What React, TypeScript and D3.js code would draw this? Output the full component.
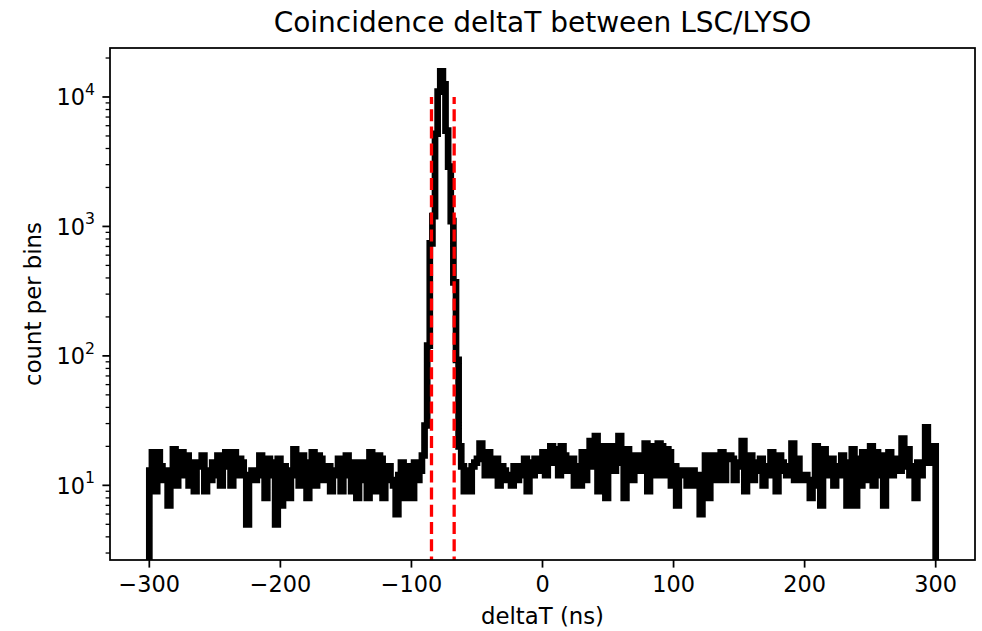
import React from "react";
import * as d3 from "d3";

// ---- data ----
const binStart = -300;
const binEnd = 300;
const counts: number[] = [
  13, 18, 9, 18, 14, 11, 13, 7, 12, 19,
  10, 16, 18, 12, 17, 10, 15, 9, 14, 15,
  17, 9, 13, 11, 15, 12, 17, 10, 14, 18,
  16, 10, 18, 12, 16, 15, 12, 5, 12, 13,
  11, 12, 17, 15, 8, 16, 15, 12, 5, 16,
  7, 14, 13, 8, 12, 19, 12, 10, 17, 15,
  8, 14, 18, 10, 17, 16, 11, 14, 14, 9,
  13, 12, 16, 9, 15, 17, 12, 9, 15, 8,
  13, 15, 11, 8, 18, 12, 9, 17, 16, 8,
  13, 14, 11, 10, 6, 12, 15, 8, 12, 14,
  8, 15, 11, 13, 17, 29, 120, 740, 1200, 5200,
  11000, 15800, 12500, 5500, 2900, 1100, 370, 93, 20, 14,
  9, 13, 9, 14, 15, 16, 21, 17, 12, 18,
  15, 12, 16, 10, 14, 13, 11, 12, 10, 14,
  11, 14, 12, 16, 9, 15, 12, 16, 16, 13,
  18, 12, 17, 20, 15, 19, 12, 20, 17, 13,
  16, 16, 10, 14, 10, 18, 11, 16, 22, 14,
  24, 9, 19, 20, 8, 17, 20, 13, 18, 24,
  15, 8, 19, 17, 11, 15, 17, 13, 16, 21,
  9, 18, 20, 12, 21, 20, 12, 19, 18, 10,
  14, 7, 12, 13, 13, 10, 12, 13, 10, 12,
  6, 11, 17, 8, 15, 17, 11, 16, 18, 11,
  16, 17, 16, 11, 14, 15, 22, 9, 17, 17,
  11, 15, 13, 16, 10, 14, 12, 18, 12, 9,
  17, 15, 13, 12, 14, 21, 11, 16, 12, 11,
  12, 11, 8, 10, 20, 15, 7, 19, 16, 12,
  16, 10, 14, 12, 17, 13, 7, 15, 19, 7,
  16, 10, 18, 16, 11, 20, 10, 18, 12, 17,
  7, 15, 18, 12, 16, 16, 13, 23, 14, 19,
  12, 14, 8, 15, 12, 15, 28, 20, 15, 20,
];
const xTicks = [-300, -200, -100, 0, 100, 200, 300];
const yMajorExps = [1, 2, 3, 4];
const cutLines = [-84.7, -67.4];
const cutTop = 10000;
const xDomain = [-330, 330];
const yDomain = [2.65, 23900];

const title = "Coincidence deltaT between LSC/LYSO";
const xLabel = "deltaT (ns)";
const yLabel = "count per bins";

// ---- layout ----
const W = 982;
const H = 631;
const L = 110;
const R = 975;
const T = 48;
const B = 560;
const FONT = "DejaVu Sans";
const fsTick = 22.4;
const fsLabel = 22.8;
const fsTitle = 28;

export default function App() {
  const x = d3.scaleLinear().domain(xDomain).range([L, R]);
  const y = d3.scaleLog().domain(yDomain).range([B, T]);

  const n = counts.length;
  const bw = (binEnd - binStart) / n;
  const pts: [number, number][] = [];
  const low = 0.5;
  pts.push([binStart, low]);
  counts.forEach((c, i) => {
    pts.push([binStart + i * bw, c]);
    pts.push([binStart + (i + 1) * bw, c]);
  });
  pts.push([binEnd, low]);
  const line = d3
    .line<[number, number]>()
    .x((d) => x(d[0]))
    .y((d) => y(d[1]));
  const pathD = line(pts) || "";

  const minorTicks: number[] = [];
  for (let e = 0; e <= 4; e++) {
    for (let m = 2; m <= 9; m++) {
      const v = m * Math.pow(10, e);
      if (v >= yDomain[0] && v <= yDomain[1]) minorTicks.push(v);
    }
  }

  const fmt = (v: number) => (v < 0 ? "\u2212" + Math.abs(v) : String(v));

  return (
    <svg
      width={W}
      height={H}
      style={{ position: "absolute", left: 0, top: 0, background: "#fff" }}
      fontFamily={FONT}
    >
      <rect x={0} y={0} width={W} height={H} fill="#fff" />
      <defs>
        <clipPath id="plotclip">
          <rect x={L} y={T} width={R - L} height={B - T} />
        </clipPath>
      </defs>
      <g clipPath="url(#plotclip)">
        <path
          d={pathD}
          fill="none"
          stroke="#000"
          strokeWidth={6.7}
          strokeLinejoin="miter"
          strokeLinecap="butt"
        />
        {cutLines.map((c, i) => (
          <line
            key={i}
            x1={x(c)}
            x2={x(c)}
            y1={y(cutTop)}
            y2={B + 10}
            stroke="#ff0000"
            strokeWidth={3.3}
            strokeDasharray="12 5.2"
            strokeDashoffset={5}
          />
        ))}
      </g>
      {/* spines */}
      <rect
        x={L}
        y={T}
        width={R - L}
        height={B - T}
        fill="none"
        stroke="#000"
        strokeWidth={1.75}
      />
      {/* x ticks */}
      {xTicks.map((t) => (
        <g key={t}>
          <line x1={x(t)} x2={x(t)} y1={B} y2={B + 7.6} stroke="#000" strokeWidth={1.75} />
          <text x={x(t)} y={591.5} fontSize={fsTick} textAnchor="middle" fill="#000">
            {fmt(t)}
          </text>
        </g>
      ))}
      {/* y minor ticks */}
      {minorTicks.map((t) => (
        <line key={t} x1={L - 4.4} x2={L} y1={y(t)} y2={y(t)} stroke="#000" strokeWidth={1.3} />
      ))}
      {/* y major ticks */}
      {yMajorExps.map((e) => {
        const yy = y(Math.pow(10, e));
        return (
          <g key={e}>
            <line x1={L - 7.6} x2={L} y1={yy} y2={yy} stroke="#000" strokeWidth={1.75} />
            <text x={L - 15} y={yy + 8.4} fontSize={fsTick} textAnchor="end" fill="#000">
              10
              <tspan fontSize={fsTick * 0.7} dy={-10.5}>
                {String(e)}
              </tspan>
            </text>
          </g>
        );
      })}
      {/* labels */}
      <text x={(L + R) / 2} y={624} fontSize={fsLabel} textAnchor="middle" fill="#000">
        {xLabel}
      </text>
      <text
        transform={`translate(41,${(T + B) / 2}) rotate(-90)`}
        fontSize={fsLabel}
        textAnchor="middle"
        fill="#000"
      >
        {yLabel}
      </text>
      <text x={(L + R) / 2} y={32} fontSize={fsTitle} textAnchor="middle" fill="#000">
        {title}
      </text>
    </svg>
  );
}
